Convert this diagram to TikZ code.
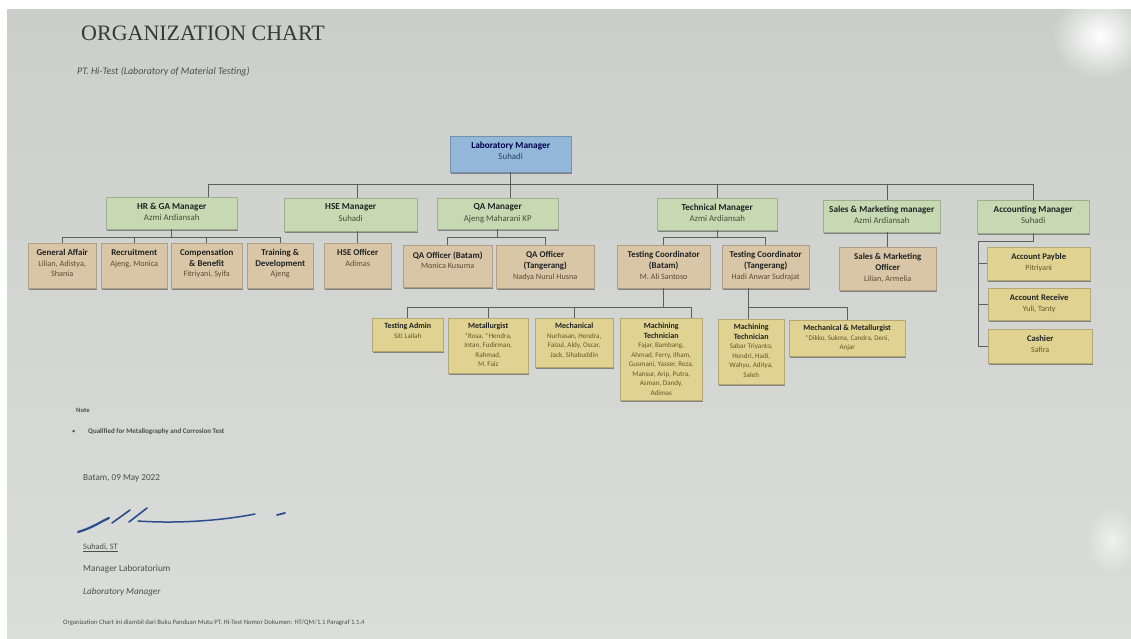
\documentclass[tikz,border=0pt]{standalone}
\usepackage{fontspec}
\setmainfont{Carlito}
\newfontfamily\titlefont{Liberation Serif}
\usetikzlibrary{shadows,fadings,calc}

% palette
\definecolor{paperTop}{HTML}{CBCECB}
\definecolor{paperMid}{HTML}{E5E7E5}
\definecolor{paperBot}{HTML}{DADDDA}
\definecolor{labblue}{HTML}{92B7D8}
\definecolor{mgrgreen}{HTML}{C7D9B3}
\definecolor{unittan}{HTML}{D9C6A7}
\definecolor{teamyellow}{HTML}{E0D391}
\definecolor{linkgrey}{HTML}{5A5F5F}
\definecolor{inkdark}{HTML}{1F2222}
\definecolor{inkgrey}{HTML}{4A4F4E}
\definecolor{signblue}{HTML}{2C4C8C}
\definecolor{nameblue}{HTML}{2A3C66}
\definecolor{namegreen}{HTML}{3F5038}
\definecolor{nametan}{HTML}{5E4A33}
\definecolor{nameyellow}{HTML}{655626}

\tikzfading[name=softspot, inner color=transparent!0, outer color=transparent!100]

% one chart box: name, x1, y1, x2, y2, style, top padding, content
\newcommand\orgbox[8]{%
  \node[#6, anchor=north west, inner sep=0pt] (#1) at (#2,#3)
    {\parbox[c][\dimexpr #5pt-#3pt\relax][t]{\dimexpr #4pt-#2pt\relax}%
      {\centering\vspace*{#7}#8\par}};}
% box headings and staff names, sized and coloured per box style
\newcommand\hd[1]{{\hdfont\bfseries#1}}
\newcommand\nm[1]{{\color{namecol}#1}}

\tikzset{
  chartbox/.style={draw=#1!80!black, fill=#1, line width=0.4pt,
    drop shadow={shadow xshift=0.4pt, shadow yshift=-1.6pt, fill=black!60, opacity=0.75}},
  topbox/.style={chartbox=labblue, text=blue!30!black,
    font=\fontsize{8.9}{11}\selectfont,
    execute at begin node={\colorlet{namecol}{nameblue}\def\hdfont{\fontsize{9.3}{11}\selectfont}}},
  mgrbox/.style={chartbox=mgrgreen, text=inkdark,
    font=\fontsize{8.8}{11.4}\selectfont,
    execute at begin node={\colorlet{namecol}{namegreen}\def\hdfont{\fontsize{9.2}{11}\selectfont}}},
  unitbox/.style={chartbox=unittan, text=inkdark,
    font=\fontsize{8.2}{10.6}\selectfont,
    execute at begin node={\colorlet{namecol}{nametan}\def\hdfont{\fontsize{8.9}{10}\selectfont}}},
  teambox/.style={chartbox=teamyellow, text=inkdark,
    font=\fontsize{7.1}{9.5}\selectfont,
    execute at begin node={\colorlet{namecol}{nameyellow}\def\hdfont{\fontsize{8}{9}\selectfont}}},
  cashbox/.style={chartbox=teamyellow, text=inkdark,
    font=\fontsize{8}{11.4}\selectfont,
    execute at begin node={\colorlet{namecol}{nameyellow}\def\hdfont{\fontsize{8.6}{10}\selectfont}}},
  link/.style={draw=linkgrey, line width=0.9pt},
  papertext/.style={anchor=base west, inner sep=0pt, text=inkgrey},
  sign/.style={draw=signblue, line cap=round, line join=round},
}

\begin{document}
\begin{tikzpicture}[x=1pt, y=-1pt]
\useasboundingbox (0,0) rectangle (1131,639);

% sheet of paper on a white ground
\fill[white] (0,0) rectangle (1131,639);
\shade[top color=paperTop, middle color=paperMid, bottom color=paperBot]
  (7,10) rectangle (1131,639);
\fill[white, path fading=softspot] (1100,36) ellipse [x radius=48pt, y radius=44pt];
\fill[white, opacity=0.6, path fading=softspot] (1112,540) ellipse [x radius=26pt, y radius=34pt];

% heading
\node[anchor=base west, inner sep=0pt, text=black!78] (title) at (81,41)
  {\titlefont\fontsize{22}{22}\selectfont ORGANIZATION CHART};
\node[papertext, text=inkgrey] (subtitle) at (77,75)
  {\fontsize{10}{12}\selectfont\itshape PT. Hi-Test (Laboratory of Material Testing)};

% level 1
\orgbox{lab}{450}{136}{571}{172}{topbox}{5.5pt}{\hd{Laboratory Manager}\\\nm{Suhadi}}

% level 2
\orgbox{hr}{106}{197}{237}{229}{mgrbox}{5.5pt}{\hd{HR \& GA Manager}\\\nm{Azmi Ardiansah}}
\orgbox{hse}{284}{198}{417}{231}{mgrbox}{5.5pt}{\hd{HSE Manager}\\\nm{Suhadi}}
\orgbox{qa}{437}{198}{558}{229}{mgrbox}{5.5pt}{\hd{QA Manager}\\\nm{Ajeng Maharani KP}}
\orgbox{tech}{657}{198}{777}{230}{mgrbox}{5.5pt}{\hd{Technical Manager}\\\nm{Azmi Ardiansah}}
\orgbox{sm}{823}{200}{940}{232}{mgrbox}{5.5pt}{\hd{Sales \& Marketing manager}\\\nm{Azmi Ardiansah}}
\orgbox{acc}{977}{200}{1089}{233}{mgrbox}{5.5pt}{\hd{Accounting Manager}\\\nm{Suhadi}}

% level 3
\orgbox{ga}{28}{243}{96}{288}{unitbox}{6pt}{\hd{General Affair}\\\nm{Lilian, Adistya,\\Shania}}
\orgbox{rec}{101}{243}{167}{288}{unitbox}{6pt}{\hd{Recruitment}\\\nm{Ajeng, Monica}}
\orgbox{comp}{171}{243}{242}{288}{unitbox}{6pt}{\hd{Compensation}\\\hd{\& Benefit}\\\nm{Fitriyani, Syifa}}
\orgbox{train}{247}{243}{313}{288}{unitbox}{6pt}{\hd{Training \&}\\\hd{Development}\\\nm{Ajeng}}
\orgbox{hseo}{324}{243}{391}{288}{unitbox}{6pt}{\hd{HSE Officer}\\\nm{Adimas}}
\orgbox{qab}{403}{245}{492}{287}{unitbox}{6.5pt}{\hd{QA Officer (Batam)}\\\nm{Monica Kusuma}}
\orgbox{qat}{496}{245}{594}{288}{unitbox}{6.5pt}{\hd{QA Officer}\\\hd{(Tangerang)}\\\nm{Nadya Nurul Husna}}
\orgbox{tcb}{617}{245}{710}{288}{unitbox}{6.5pt}{\hd{Testing Coordinator}\\\hd{(Batam)}\\\nm{M. Ali Santoso}}
\orgbox{tct}{722}{245}{809}{288}{unitbox}{6.5pt}{\hd{Testing Coordinator}\\\hd{(Tangerang)}\\\nm{Hadi Anwar Sudrajat}}
\orgbox{so}{839}{247}{936}{290}{unitbox}{6.5pt}{\hd{Sales \& Marketing}\\\hd{Officer}\\\nm{Lilian, Armelia}}

% accounting staff
\orgbox{ap}{987}{247}{1090}{280}{cashbox}{6pt}{\hd{Account Payble}\\\nm{Pitriyani}}
\orgbox{ar}{988}{288}{1090}{320}{cashbox}{6pt}{\hd{Account Receive}\\\nm{Yuli, Tanty}}
\orgbox{cash}{988}{329}{1092}{363}{cashbox}{6pt}{\hd{Cashier}\\\nm{Safira}}

% level 4
\orgbox{ta}{372}{318}{443}{351}{teambox}{5pt}{\hd{Testing Admin}\\\nm{Siti Lailah}}
\orgbox{met}{448}{318}{528}{373}{teambox}{5pt}{\hd{Metallurgist}\\\nm{*Rosa, *Hendra,\\Intan, Fudirman,\\Rahmad,\\M. Faiz}}
\orgbox{mech}{535}{318}{613}{367}{teambox}{5pt}{\hd{Mechanical}\\\nm{Nurhasan, Hendra,\\Faizul, Aldy, Oscar,\\Jack, Sihabuddin}}
\orgbox{mt1}{620}{318}{702}{400}{teambox}{5pt}{\hd{Machining}\\\hd{Technician}\\\nm{Fajar, Bambang,\\Ahmad, Ferry, Ilham,\\Gusmani, Yasser, Reza,\\Mansur, Arip, Putra,\\Asman, Dandy,\\Adimas}}
\orgbox{mt2}{718}{319}{784}{384}{teambox}{5pt}{\hd{Machining}\\\hd{Technician}\\\nm{Sabar Triyanto,\\Hendri, Hadi,\\Wahyu, Aditya,\\Saleh}}
\orgbox{mm}{789}{320}{905}{356}{teambox}{5pt}{\hd{Mechanical \& Metallurgist}\\\nm{*Dikko, Sukma, Candra, Deni,\\Anjar}}

% connectors
\coordinate (bus) at (0,184.5);
\coordinate (subbus) at (0,237);
\coordinate (teambus) at (0,307);

\draw[link] (lab.south) -- (lab.south |- qa.north);
\draw[link] ([xshift=36.5pt]hr.north) |- (acc.north |- bus) -- (acc.north);
\draw[link] (hseo.north |- bus) -- (hseo.north |- hse.north);
\draw[link] (tech.north |- bus) -- (tech.north);
\draw[link] (so.north |- bus) -- (so.north |- sm.north);

\foreach \c in {ga,rec,comp,train}
  \draw[link] (hr.south) |- (\c.north |- subbus) -- (\c.north);
\draw[link] (hseo.north |- hse.south) -- (hseo.north);
\foreach \c in {qab,qat}
  \draw[link] (qa.south) |- (\c.north |- subbus) -- (\c.north);
\foreach \c in {tcb,tct}
  \draw[link] (tech.south) |- (\c.north |- subbus) -- (\c.north);
\draw[link] (so.north |- sm.south) -- (so.north);

\coordinate (spine) at (978,241);
\draw[link] (acc.south) |- (spine) |- (cash.west);
\draw[link] (spine |- ap.west) -- (ap.west);
\draw[link] (spine |- ar.west) -- (ar.west);

\foreach \c in {ta,met,mech}
  \draw[link] (tcb.south) |- (\c.north |- teambus) -- (\c.north);
\draw[link] (tcb.south) |- ([xshift=30pt]mt1.north |- teambus) -- ([xshift=30pt]mt1.north);
\draw[link] ([xshift=-17.5pt]tct.south) -- ([xshift=-17.5pt]tct.south |- mt2.north);
\draw[link] ([xshift=-17.5pt]tct.south) |- (mm.north |- teambus) -- (mm.north);

% note
\node[papertext, text=black!70] (note) at (76,412) {\fontsize{6.6}{8}\selectfont\bfseries Note};
\node[papertext, text=black!70] (bullet) at (72,433) {\fontsize{6.6}{8}\selectfont\textbullet};
\node[papertext, text=black!70] (noteitem) at (88,433)
  {\fontsize{7}{8}\selectfont\bfseries Qualified for Metallography and Corrosion Test};

% signature block
\node[papertext] (place) at (83,480) {\fontsize{9.2}{11}\selectfont Batam, 09 May 2022};
\draw[sign, line width=2.2pt] (78,532) .. controls (92,528) and (100,522) .. (109,518);
\draw[sign, line width=1.6pt] (112,523) -- (130,510);
\draw[sign, line width=1.6pt] (129,522) -- (147,508);
\draw[sign, line width=1.5pt] (138,521) .. controls (180,524) and (225,520) .. (255,514);
\draw[sign, line width=1.8pt] (277,515) -- (285,513);
\node[papertext] (signer) at (83,549) {\fontsize{8.3}{10}\selectfont\underline{Suhadi, ST}};
\node[papertext] (role) at (83,571) {\fontsize{9.3}{11}\selectfont Manager Laboratorium};
\node[papertext] (roleen) at (83,594) {\fontsize{9.2}{11}\selectfont\itshape Laboratory Manager};

% footer
\node[papertext] (footer) at (63,624)
  {\fontsize{6.7}{8}\selectfont Organization Chart ini diambil dari Buku Panduan Mutu PT. Hi-Test Nomor Dokumen: HT/QM/1.1 Paragraf 1.1.4};
\end{tikzpicture}
\end{document}
